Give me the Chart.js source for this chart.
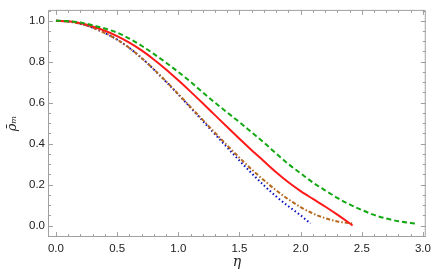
<!DOCTYPE html>
<html>
<head>
<meta charset="utf-8">
<script src="https://cdn.jsdelivr.net/npm/chart.js@4/dist/chart.umd.min.js"></script>
<style>
html,body{margin:0;padding:0;background:#fff;}
#wrap{width:436px;height:280px;position:relative;}
</style>
</head>
<body>
<div id="wrap"><canvas id="c" width="436" height="280"></canvas></div>
<script>
// ---- data ----
const etaGreen = [0,0.1,0.2,0.3,0.4,0.5,0.6,0.7,0.8,0.9,1.0,1.1,1.2,1.3,1.4,1.5,1.6,1.7,1.8,1.9,2.0,2.1,2.2,2.3,2.4,2.5,2.6,2.7,2.8,2.9,2.95];
const rhoGreen = [1.000,0.998,0.991,0.978,0.962,0.942,0.913,0.878,0.838,0.795,0.750,0.702,0.650,0.600,0.552,0.505,0.455,0.405,0.352,0.300,0.255,0.210,0.172,0.135,0.103,0.076,0.052,0.034,0.021,0.012,0.009];

const etaRed = [0,0.1,0.2,0.3,0.4,0.5,0.6,0.7,0.8,0.9,1.0,1.1,1.2,1.3,1.4,1.5,1.6,1.7,1.8,1.9,2.0,2.1,2.2,2.3,2.4,2.425];
const rhoRed = [1.000,0.997,0.988,0.972,0.951,0.925,0.893,0.855,0.811,0.762,0.709,0.654,0.597,0.539,0.481,0.424,0.368,0.314,0.260,0.211,0.168,0.130,0.093,0.053,0.011,0.0];

const etaBrown = [0,0.1,0.2,0.3,0.4,0.5,0.6,0.7,0.8,0.9,1.0,1.1,1.2,1.3,1.4,1.5,1.6,1.7,1.8,1.9,2.0,2.1,2.2,2.3,2.43];
const rhoBrown = [1.000,0.996,0.985,0.966,0.940,0.908,0.867,0.818,0.763,0.704,0.642,0.579,0.516,0.453,0.391,0.331,0.274,0.221,0.172,0.128,0.090,0.059,0.036,0.020,0.009];

const etaBlue = [0,0.1,0.2,0.3,0.4,0.5,0.6,0.7,0.8,0.9,1.0,1.1,1.2,1.3,1.4,1.5,1.6,1.7,1.8,1.9,2.0,2.08];
const rhoBlue = [1.000,0.996,0.985,0.966,0.940,0.908,0.867,0.818,0.762,0.702,0.640,0.576,0.511,0.446,0.381,0.317,0.255,0.196,0.142,0.094,0.050,0.010];

const xTickValues = [0,0.5,1.0,1.5,2.0,2.5,3.0];
const yTickValues = [0,0.2,0.4,0.6,0.8,1.0];
const xTitle = "η";
const yTitle = "ρ̄ₘ";

function pts(xs, ys){ return xs.map((x,i)=>({x:x, y:ys[i]})); }

const frameColor = '#a0a0a0';

const framePlugin = {
  id: 'frameTicks',
  afterDatasetsDraw(chart){
    const ctx = chart.ctx, a = chart.chartArea;
    const xs = chart.scales.x, ys = chart.scales.y;
    ctx.save();
    ctx.strokeStyle = frameColor;
    ctx.lineWidth = 1;
    ctx.beginPath();
    ctx.rect(a.left+0.5, a.top+0.5, a.right-a.left-1, a.bottom-a.top-1);
    ctx.stroke();
    ctx.beginPath();
    // x ticks (major every 0.5, minor every 0.1)
    for (let k = 0; k <= 30; k++) {
      const v = k/10;
      const px = Math.round(xs.getPixelForValue(v)) + 0.5;
      const len = (k % 5 === 0) ? 5 : 3;
      ctx.moveTo(px, a.bottom); ctx.lineTo(px, a.bottom - len);
      ctx.moveTo(px, a.top); ctx.lineTo(px, a.top + len);
    }
    // y ticks (major every 0.2, minor every 0.05)
    for (let k = -1; k <= 21; k++) {
      const v = k/20;
      const py = Math.round(ys.getPixelForValue(v)) + 0.5;
      if (py < a.top || py > a.bottom) continue;
      const len = (k % 4 === 0) ? 5 : 3;
      ctx.moveTo(a.left, py); ctx.lineTo(a.left + len, py);
      ctx.moveTo(a.right, py); ctx.lineTo(a.right - len, py);
    }
    ctx.stroke();
    ctx.restore();
  }
};

const tickFont = {family: '"Liberation Sans", Arial, sans-serif', size: 11.5};

new Chart(document.getElementById('c'), {
  type: 'line',
  data: {
    datasets: [
      {data: pts(etaGreen, rhoGreen), borderColor: '#12a812', borderWidth: 2, borderDash: [5,3], pointRadius: 0, cubicInterpolationMode: 'monotone', fill: false},
      {data: pts(etaRed, rhoRed), borderColor: '#ff1a1a', borderWidth: 2, pointRadius: 0, cubicInterpolationMode: 'monotone', fill: false},
      {data: pts(etaBrown, rhoBrown), borderColor: '#b5681e', borderWidth: 2, borderDash: [4,2,1.5,2], pointRadius: 0, cubicInterpolationMode: 'monotone', fill: false},
      {data: pts(etaBlue, rhoBlue), borderColor: '#0c0cbe', borderWidth: 2, borderDash: [1.5,2.5], pointRadius: 0, cubicInterpolationMode: 'monotone', fill: false}
    ]
  },
  options: {
    responsive: false,
    animation: false,
    events: [],
    layout: {padding: {top: 1, right: 6, left: 0, bottom: 0}},
    plugins: {legend: {display: false}, tooltip: {enabled: false}},
    scales: {
      x: {
        type: 'linear', min: -0.065, max: 3.023,
        afterBuildTicks: s => { s.ticks = xTickValues.map(v => ({value: v})); },
        afterFit: s => { s.height = 43; },
        grid: {display: false, drawTicks: false},
        border: {display: false},
        ticks: {font: tickFont, color: '#222', padding: 5, maxRotation: 0, callback: v => Number(v).toFixed(1)},
        title: {display: true, text: xTitle, color: '#222', font: {family: '"DejaVu Serif", serif', size: 14, style: 'italic'}, padding: {top: 0, bottom: 9}}
      },
      y: {
        type: 'linear', min: -0.056, max: 1.053,
        afterBuildTicks: s => { s.ticks = yTickValues.map(v => ({value: v})); },
        afterFit: s => { s.width = 48; },
        grid: {display: false, drawTicks: false},
        border: {display: false},
        ticks: {font: tickFont, color: '#222', padding: 3, callback: v => Number(v).toFixed(1)},
        title: {display: true, text: yTitle, color: '#222', font: {family: '"DejaVu Serif", serif', size: 13, style: 'italic'}, padding: {top: 5, bottom: 5}}
      }
    }
  },
  plugins: [framePlugin]
});
</script>
</body>
</html>
